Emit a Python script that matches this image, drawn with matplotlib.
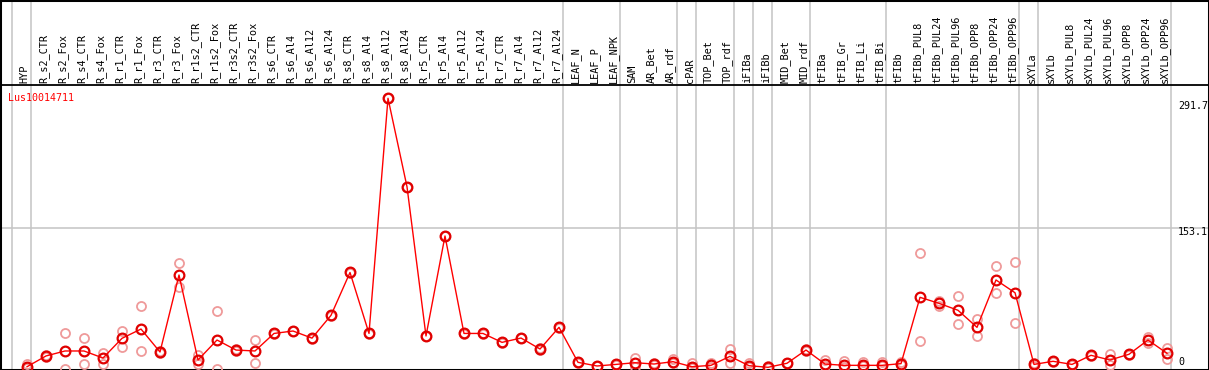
import numpy as np
import matplotlib
matplotlib.use('Agg')
import matplotlib.pyplot as plt

gene = 'Lus10014711'

samples = ['HYP', 'R_s2_CTR', 'R_s2_Fox', 'R_s4_CTR', 'R_s4_Fox', 'R_r1_CTR', 'R_r1_Fox',
           'R_r3_CTR', 'R_r3_Fox', 'R_r1s2_CTR', 'R_r1s2_Fox', 'R_r3s2_CTR', 'R_r3s2_Fox',
           'R_s6_CTR', 'R_s6_Al4', 'R_s6_Al12', 'R_s6_Al24', 'R_s8_CTR', 'R_s8_Al4',
           'R_s8_Al12', 'R_s8_Al24', 'R_r5_CTR', 'R_r5_Al4', 'R_r5_Al12', 'R_r5_Al24',
           'R_r7_CTR', 'R_r7_Al4', 'R_r7_Al12', 'R_r7_Al24', 'LEAF_N', 'LEAF_P', 'LEAF_NPK',
           'SAM', 'AR_Bet', 'AR_rdf', 'cPAR', 'TOP_Bet', 'TOP_rdf', 'iFIBa', 'iFIBb',
           'MID_Bet', 'MID_rdf', 'tFIBa', 'tFIB_Gr', 'tFIB_Li', 'tFIB_Bi', 'tFIBb',
           'tFIBb_PUL8', 'tFIBb_PUL24', 'tFIBb_PUL96', 'tFIBb_OPP8', 'tFIBb_OPP24',
           'tFIBb_OPP96', 'sXYLa', 'sXYLb', 'sXYLb_PUL8', 'sXYLb_PUL24', 'sXYLb_PUL96',
           'sXYLb_OPP8', 'sXYLb_OPP24', 'sXYLb_OPP96']

# number of samples in each tissue group (separated by grey lines)
group_sizes = [1, 28, 3, 3, 1, 2, 1, 1, 2, 4, 7, 1, 7]

mean_expr = [5.5, 17, 22.3, 22.3, 14.8, 35.8, 45.7, 21.2, 103.3, 12.7, 34, 23.3, 22.3,
             41, 43.6, 36, 60.3, 106, 41, 291.7, 197.4, 38.3, 144.9, 41, 41, 31.5, 36.1,
             24.4, 47.5, 10.2, 6.3, 8, 9.8, 8.4, 10.9, 5.5, 7, 16.6, 6.6, 4.9, 9.2, 23.3,
             8.4, 7, 7, 7, 8.8, 79.5, 73.1, 65.7, 47.5, 98, 84.4, 8, 11.3, 8, 17.7, 12.7,
             18.8, 34, 19.8]

rep1 = [8, 18.5, 41, 35.8, 20.5, 43.6, 70, 22.5, 115.8, 18, 65, 24, 34, 41.5, 44, 36.5,
        60.8, 106.5, 41.5, 291.7, 197.4, 38.8, 145, 41.5, 41.5, 32, 36.5, 25, 48, 10.8,
        6.8, 8.5, 15, 9.5, 13.7, 9, 9, 24, 9.8, 6.6, 9.5, 24.5, 12.7, 11.6, 10.5, 10.5,
        10.5, 126.8, 75.6, 80.6, 56.4, 112.6, 117.2, 10, 12, 8.5, 18.5, 18.8, 19.5, 37.5,
        25.8]

rep2 = [4, 15.5, 3, 8, 8, 27, 22.3, 20, 90.8, 8, 3, 22.5, 10, 40.5, 43.2, 35.5, 59.8,
        105.5, 40.5, 291.7, 197.4, 37.8, 144.8, 40.5, 40.5, 31, 35.7, 23.8, 47, 9.6, 5.8,
        7.5, 5.5, 7.5, 9, 4, 5, 9.8, 5, 4, 9, 22, 6, 5, 6, 6, 7.5, 32.9, 70.3, 50.7, 38,
        83.8, 51.8, 6, 10.5, 7.5, 17, 7, 18, 31, 13.4]

y_labels = ['291.7', '153.1', '0']

W, H = 1209, 370
x0, dx = 27, 19            # pixel of first column, pixel step
y0, dy = 371.9, 0.938      # pixel of value 0, pixels per unit

fig = plt.figure(figsize=(W / 100, H / 100), dpi=100)
ax = fig.add_axes([0, 0, 1, 1])
ax.set_xlim(-x0 / dx, (W - x0) / dx)
ax.set_ylim((y0 - H) / dy, y0 / dy)
ax.set_xticks([])
ax.set_yticks([])
for s in ax.spines.values():
    s.set_linewidth(2.2)
    s.set_color('black')

def py(p):
    # figure pixel (from top) -> axes fraction
    return 1 - p / H

x = np.arange(len(samples))

# group separators
bounds = np.concatenate([[0], np.cumsum(group_sizes)]) - 1 + 0.2
for b in bounds:
    ax.axvline(b, color='#c4c4c4', lw=1.1, zorder=1)

ax.axhline(153.1, color='#c4c4c4', lw=1.1, zorder=1)
ax.axhline((y0 - 85) / dy, color='black', lw=1.3, zorder=2)

ax.plot(x, rep1, 'o', ms=6.5, mfc='none', mec='#ef9a9a', mew=1.3, zorder=3)
ax.plot(x, rep2, 'o', ms=6.5, mfc='none', mec='#ef9a9a', mew=1.3, zorder=3)
ax.plot(x, mean_expr, '-', color='red', lw=1.0, zorder=4)
ax.plot(x, mean_expr, 'o', ms=7, mfc='none', mec='#e00000', mew=1.6, zorder=5)

mono = 'DejaVu Sans Mono'
for i, name in enumerate(samples):
    ax.text(i - 0.12, py(83), name, rotation=90, ha='center', va='bottom',
            fontsize=7.4, family=mono, transform=ax.get_xaxis_transform())

ax.text(8 / W, py(98), gene, color='red', fontsize=7.2, family=mono,
        ha='left', va='center', transform=ax.transAxes)

for lab, p in zip(y_labels, [106, 232, 362]):
    ax.text(1178 / W, py(p), lab, fontsize=7.2, family=mono,
            ha='left', va='center', transform=ax.transAxes)

fig.savefig('out.png', dpi=100)
